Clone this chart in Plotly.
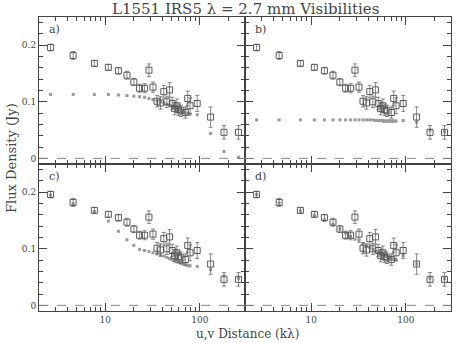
import plotly.graph_objects as go

# Observed visibilities (u,v distance in kλ, flux in Jy, 1-sigma errors)
obs_uv = [2.65, 4.59, 7.69, 10.8, 13.8, 17.0, 20.1, 23.1, 26.1, 29.0, 32.0, 35.3, 38.4, 41.6,
          44.8, 47.9, 51.1, 54.1, 57.2, 59.7, 63.2, 70.3, 74.5, 78.9, 93.8, 130, 180, 256]
obs_flux = [0.196, 0.182, 0.168, 0.161, 0.155, 0.147, 0.135, 0.124, 0.124, 0.156, 0.126, 0.101, 0.098, 0.118,
            0.100, 0.121, 0.097, 0.088, 0.093, 0.086, 0.084, 0.081, 0.106, 0.093, 0.097, 0.073, 0.046, 0.046]
obs_err = [0.006, 0.007, 0.005, 0.005, 0.006, 0.007, 0.006, 0.007, 0.008, 0.011, 0.009, 0.010, 0.011, 0.011,
           0.010, 0.013, 0.011, 0.011, 0.012, 0.010, 0.010, 0.010, 0.013, 0.014, 0.014, 0.018, 0.012, 0.012]

# Model visibilities at the sampled u,v distances
model_uv = [2.65, 4.59, 7.69, 10.8, 13.8, 17.0, 20.1, 23.1, 26.1, 29.0, 32.0, 35.3, 38.4, 41.6, 44.8, 47.9,
            49.5, 51.1, 52.6, 54.1, 55.6, 57.2, 58.4, 59.7, 61.4, 63.2, 65.0, 66.8, 68.5, 70.3, 72.4, 74.5,
            76.7, 78.9, 93.8, 130, 180, 256]
model_a = [0.113, 0.113, 0.113, 0.113, 0.112, 0.111, 0.110, 0.109, 0.108, 0.106, 0.104, 0.102, 0.100, 0.098,
           0.096, 0.094, 0.093, 0.092, 0.091, 0.090, 0.089, 0.088, 0.087, 0.086, 0.085, 0.084, 0.083, 0.082,
           0.081, 0.080, 0.080, 0.079, 0.079, 0.078, 0.077, 0.044, 0.012, 0.002]
model_b = [0.068, 0.068, 0.068, 0.068, 0.068, 0.068, 0.068, 0.068, 0.068, 0.068, 0.068, 0.068, 0.068, 0.068,
           0.068, 0.067, 0.067, 0.067, 0.067, 0.067, 0.067, 0.066, 0.066, 0.066, 0.066, 0.066, 0.066, 0.066,
           0.066, 0.066, 0.066, 0.066, 0.066, 0.066, 0.067, 0.064, 0.050, 0.047]
model_c = [0.195, 0.180, 0.166, 0.149, 0.131, 0.116, 0.106, 0.099, 0.097, 0.095, 0.093, 0.091, 0.089, 0.087,
           0.085, 0.083, 0.082, 0.081, 0.080, 0.079, 0.078, 0.077, 0.077, 0.076, 0.075, 0.075, 0.074, 0.073,
           0.073, 0.072, 0.071, 0.071, 0.070, 0.070, 0.069, 0.063, 0.052, 0.048]
model_d = [0.196, 0.181, 0.167, 0.159, 0.151, 0.143, 0.135, 0.128, 0.122, 0.117, 0.113, 0.109, 0.105, 0.102,
           0.099, 0.096, 0.095, 0.094, 0.093, 0.092, 0.091, 0.090, 0.089, 0.088, 0.087, 0.086, 0.085, 0.084,
           0.083, 0.082, 0.082, 0.081, 0.081, 0.080, 0.088, 0.073, 0.048, 0.047]

panel_labels = ["a)", "b)", "c)", "d)"]
models = [model_a, model_b, model_c, model_d]

x_major = [10, 100]
x_minor = [2, 3, 4, 5, 6, 7, 8, 9, 20, 30, 40, 50, 60, 70, 80, 90, 200, 300]
y_major = [0, 0.1, 0.2]
y_major_text = ["0", "0.1", "0.2"]

W, H = 458, 343
FONT = "DejaVu Serif"
AX = "#444444"

# pixel layout
xl, xm, xr = 39, 245, 451
yt, ym, yb = 17, 164, 311
xdoms = [[xl / W, xm / W], [xm / W, xr / W]]
ydoms = [[1 - ym / H, 1 - yt / H], [1 - yb / H, 1 - ym / H]]

fig = go.Figure()
layout = dict(
    width=W, height=H,
    margin=dict(l=0, r=0, t=0, b=0),
    paper_bgcolor="white", plot_bgcolor="white",
    showlegend=False,
    font=dict(family=FONT, color=AX, size=10),
)

shapes = []
annotations = []
for i in range(4):
    r, c = divmod(i, 2)
    n = i + 1
    xa = "x" if n == 1 else f"x{n}"
    ya = "y" if n == 1 else f"y{n}"
    xkey = "xaxis" if n == 1 else f"xaxis{n}"
    ykey = "yaxis" if n == 1 else f"yaxis{n}"
    layout[xkey] = dict(
        domain=xdoms[c], anchor=ya, type="log",
        range=[0.30103, 2.4771],
        showgrid=False, zeroline=False,
        showline=True, linecolor=AX, linewidth=1, mirror="allticks",
        ticks="inside", ticklen=8, tickcolor=AX, tickwidth=1,
        tickmode="array", tickvals=x_major, ticktext=[str(v) for v in x_major],
        showticklabels=(r == 1),
        tickfont=dict(family=FONT, size=9, color=AX),
        minor=dict(tickmode="array", tickvals=x_minor, ticks="inside", ticklen=4,
                   tickcolor=AX, showgrid=False),
    )
    layout[ykey] = dict(
        domain=ydoms[r], anchor=xa,
        range=[-0.01, 0.25],
        showgrid=False, zeroline=False,
        showline=True, linecolor=AX, linewidth=1, mirror="allticks",
        ticks="inside", ticklen=8, tickcolor=AX, tickwidth=1,
        tickmode="array", tickvals=y_major, ticktext=y_major_text,
        showticklabels=(c == 0),
        tickfont=dict(family=FONT, size=9, color=AX),
        minor=dict(tickmode="linear", tick0=0, dtick=0.02, ticks="inside", ticklen=4,
                   tickcolor=AX, showgrid=False),
    )
    shapes.append(dict(type="line", xref=f"{xa} domain", yref=ya, x0=0, x1=1, y0=0, y1=0,
                       line=dict(color="#888888", width=1, dash="dash")))
    annotations.append(dict(text=panel_labels[i], xref=f"{xa} domain", yref=f"{ya} domain",
                            x=0.04, y=0.97, xanchor="left", yanchor="top", showarrow=False,
                            font=dict(family=FONT, size=11, color=AX)))
    fig.add_trace(go.Scatter(
        x=model_uv, y=models[i], xaxis=xa, yaxis=ya, mode="markers",
        marker=dict(symbol="square", size=3, color="#9a9a9a", line=dict(width=0)),
    ))
    fig.add_trace(go.Scatter(
        x=obs_uv, y=obs_flux, xaxis=xa, yaxis=ya, mode="markers",
        marker=dict(symbol="square-open", size=6, color="#5a5a5a", line=dict(width=1, color="#5a5a5a")),
        error_y=dict(type="data", array=obs_err, visible=True, thickness=0.8, width=2, color="#6a6a6a"),
    ))

annotations.append(dict(text="L1551 IRS5 λ = 2.7 mm Visibilities", xref="paper", yref="paper",
                        x=245 / W, y=1 - 9 / H, xanchor="center", yanchor="middle", showarrow=False,
                        font=dict(family=FONT, size=15, color=AX)))
annotations.append(dict(text="u,v Distance (kλ)", xref="paper", yref="paper",
                        x=247 / W, y=1 - 334 / H, xanchor="center", yanchor="middle", showarrow=False,
                        font=dict(family=FONT, size=12, color=AX)))
annotations.append(dict(text="Flux Density (Jy)", xref="paper", yref="paper",
                        x=11 / W, y=1 - 158 / H, xanchor="center", yanchor="middle", showarrow=False,
                        textangle=-90, font=dict(family=FONT, size=13, color=AX)))

layout["shapes"] = shapes
layout["annotations"] = annotations
fig.update_layout(**layout)
fig.write_html("out.html")
